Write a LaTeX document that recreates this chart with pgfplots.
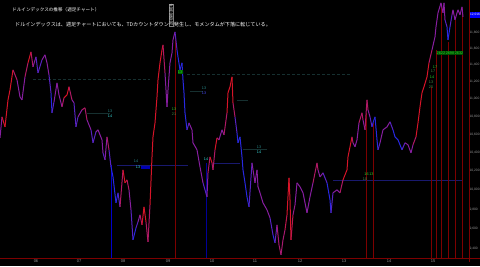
\documentclass[border=0pt]{standalone}
\usepackage{pgfplots}
\pgfplotsset{compat=1.18}
\usepackage{pgfplotstable}
\usepackage{fontspec}
\setmainfont{Liberation Sans}
\newfontfamily\cjk{Noto Sans CJK JP}
\definecolor{dred}{RGB}{125,0,0}
\definecolor{tdteal}{RGB}{40,140,140}
\definecolor{tdcyan}{RGB}{60,220,220}
\definecolor{tdgreen}{RGB}{40,210,40}
\definecolor{tddgreen}{RGB}{70,140,70}
\definecolor{dimline}{RGB}{22,48,48}
\definecolor{dblue}{RGB}{25,25,110}
\definecolor{tickgray}{RGB}{150,150,150}

\pgfplotstableread{
x p c
0 10561 0
2 10796 1
5 10683 1
8 10990 1
10 11106 1
13 11342 1
17 11224 .5
20 11025 .5
22 10990 .5
25 11259 .5
28 11426 1
31 11558 1
33 11378 .5
36 11498 .5
38 11306 0
42 11462 .5
45 11522 .5
47 11426 .5
49 11283 .5
51 11072 0
52 10842 0
54 10967 .5
57 11188 .5
59 11048 .5
62 10910 .5
64 11014 1
67 11048 1
69 11142 1
72 10990 .5
74 10956 .5
76 10683 0
78 10796 .5
82 10876 .5
85 10899 1
87 10762 .5
91 10650 .5
93 10506 0
96 10628 .5
98 10650 .5
102 10539 .5
103 10396 .5
105 10320 0
107 10572 1
109 10429 .5
111 10244 0
113 10137 0
116 9865 0
118 9969 0
120 9823 .5
123 10212 1
125 10074 1
127 10105 1
129 10000 .5
131 9792 .5
133 9489 0
136 9609 0
138 9670 .5
140 9741 .5
142 9639 1
144 9823 1
146 9670 1
148 9469 .5
150 9844 1
152 10352 1
153 10572 1
155 10728 1
157 11025 1
158 11224 1
160 11426 1
162 11582 1
163 11643 1
165 11306 .5
167 10910 .5
168 11106 .5
170 11426 .5
172 11546 .5
173 11705 .5
175 11803 .5
177 11582 0
178 11498 0
180 11342 0
182 11426 0
183 11224 0
184 11072 0
185 10842 0
187 10650 0
189 10728 .5
192 10650 .5
193 10506 .5
197 10429 .5
200 10244 .5
203 10074 .5
205 10000 0
207 9927 .5
208 10180 .5
210 10352 1
212 10287 1
213 10212 .5
215 10429 1
217 10561 1
219 10539 .5
222 10650 .5
224 10594 .5
227 10842 1
228 11072 1
230 11142 1
232 11259 1
233 10956 1
235 10796 .5
237 10616 0
238 10506 0
240 10572 0
242 10352 0
243 10212 0
245 10074 0
247 9927 0
249 9823 0
252 10287 .5
253 10212 .5
255 10074 .5
257 10212 .5
258 10032 .5
260 9969 .5
263 9865 .5
267 9792 .5
270 9711 .5
273 9539 0
275 9459 0
277 9639 .7
279 9439 .7
281 9341 .7
283 9489 .7
285 9589 .7
287 9741 1
289 10127 1
290 9896 1
291 9489 1
293 9741 .7
295 9844 .5
297 10074 .5
300 10032 .5
303 9969 .5
307 9762 .5
310 9927 .5
313 10074 .5
317 10287 1
318 10212 .5
320 10137 .5
323 10180 .5
327 10074 0
330 9896 0
331 9762 0
333 9969 .5
337 10000 .5
340 9969 .5
343 10105 1
347 10212 1
348 10352 1
350 10462 1
352 10572 1
353 10506 .5
355 10462 .5
357 10539 .5
359 10728 .5
362 10842 1
363 10762 .5
365 10650 .5
367 10990 1
368 10876 .5
370 10796 .5
372 10683 0
373 10728 0
375 10796 0
377 10539 0
378 10429 0
380 10506 .5
383 10650 .5
387 10683 .5
390 10740 .5
393 10650 0
395 10572 0
398 10539 0
402 10429 0
405 10506 .5
408 10484 .5
411 10396 .5
413 10484 .5
416 10572 1
418 10728 1
420 10910 1
422 11072 1
424 11142 1
427 11259 1
429 11426 1
432 11582 .5
435 11742 .5
436 11865 .5
438 12041 .5
441 12168 .5
443 12041 .5
444 12168 .5
445 11953 .5
447 11865 0
448 11705 0
450 11865 0
452 12016 .5
453 12079 .5
455 11953 .5
457 12041 .5
458 12079 .5
460 12016 .5
462 12117 .5
463 11991 .5
}\pricedata

\begin{document}
\begin{tikzpicture}
\useasboundingbox (0pt,0pt) rectangle (480pt,266pt);
\fill[black] (0pt,0pt) rectangle (480pt,266pt);
\begin{scope}
\clip (0pt,0pt) rectangle (480pt,266pt);
\begin{axis}[
  at={(0pt,8pt)}, anchor=south west,
  width=469pt, height=258pt, scale only axis,
  xmin=0, xmax=469,
  ymode=log, ymin=9311, ymax=12206,
  axis line style={draw=none},
  major tick length=0pt,
  xtick={36,79,123,168,212,255,300,344,389,433},
  xticklabels={06,07,08,09,10,11,12,13,14,15},
  ytick={9400,9600,9800,10000,10200,10400,10600,10800,11000,11200,11400,11600,11800},
  yticklabels={{9,400},{9,600},{9,800},{10,000},{10,200},{10,400},{10,600},{10,800},{11,000},{11,200},{11,400},{11,600},{11,800}},
  ytick pos=right,
  /pgf/number format/assume math mode=true,
  xticklabel style={font=\fontsize{4}{4}\selectfont, text=tickgray, inner sep=1pt, yshift=-1pt},
  yticklabel style={font=\fontsize{3.3}{3.5}\selectfont, text=tickgray, inner sep=0.3pt, anchor=west},
  colormap={td}{rgb255=(40,40,225) rgb255=(135,30,160) rgb255=(215,20,40)},
  point meta min=0, point meta max=1,
]
% dim level lines
\addplot[dimline, densely dashed, line width=0.4pt] coordinates {(33,11235) (150,11235)};
\addplot[dimline, densely dashed, line width=0.4pt] coordinates {(187,11294) (350,11294)};
\addplot[dimline, line width=0.4pt] coordinates {(87,10842) (110,10842)};
\addplot[dimline, line width=0.4pt] coordinates {(190,11095) (203,11095)};
\addplot[dimline, line width=0.4pt] coordinates {(237,10990) (248,10990)};
\addplot[dimline, line width=0.4pt] coordinates {(243,10440) (267,10440)};
\addplot[dblue, line width=0.5pt] coordinates {(117,10266) (188,10266)};
\addplot[dblue, line width=0.5pt] coordinates {(213,10287) (240,10287)};
\addplot[dblue, line width=0.5pt] coordinates {(333,10105) (463,10105)};
% vertical markers
\addplot[dred, line width=0.6pt] coordinates {(175,11766) (175,9311)};
\addplot[dred, line width=0.6pt] coordinates {(366,10842) (366,9311)};
\addplot[dred, line width=0.6pt] coordinates {(373,10728) (373,9311)};
\addplot[dred, line width=0.6pt] coordinates {(431,11142) (431,9311)};
\addplot[dred, line width=0.6pt] coordinates {(436,11582) (436,9311)};
\addplot[dred, line width=0.6pt] coordinates {(441,12143) (441,9311)};
\addplot[dred, line width=0.6pt] coordinates {(448,11680) (448,9311)};
\addplot[dred, line width=0.6pt] coordinates {(455,11953) (455,9311)};
\addplot[dred, line width=0.6pt] coordinates {(462,12104) (462,9311)};
\addplot[blue!80!black, line width=0.8pt] coordinates {(111,10266) (111,9311)};
\addplot[blue!60!black, line width=0.8pt] coordinates {(206,10287) (206,9311)};
% price
\addplot[mesh, point meta=explicit, line width=1pt, line join=round] table[x=x, y=p, meta=c] {\pricedata};
\end{axis}
\end{scope}
\begin{scope}[x=1pt,y=1pt]
% frame lines
\draw[dred, line width=0.6pt] (0,8) -- (480,8);
\draw[dred, line width=0.6pt] (469,4) -- (469,266);
% current price box
\fill[blue] (469.5,248) rectangle (480,254);
\node[anchor=west, text=white, font=\fontsize{3.2}{3.5}\selectfont, inner sep=0.3pt] at (469.6,251) {12,016};
% header text
\node[anchor=west, text=white, font=\cjk\fontsize{4.6}{5}\selectfont, inner sep=0] at (12,256) {ドルインデックスの推移（週足チャート）};
\node[anchor=west, text=white, font=\cjk\fontsize{5.1}{6}\selectfont, inner sep=0] at (15,241) {ドルインデックスは、週足チャートにおいても、TDカウントダウンが発生し、モメンタムが下落に転じている。};
% date marker
\node[rotate=90, draw=gray, fill=black, text=white, inner sep=0.6pt, font=\fontsize{4.2}{4.5}\selectfont] at (171,251) {2009/03/06};
% TD count labels
\begin{scope}[every node/.style={font=\fontsize{3.8}{4}\selectfont, inner sep=0.3pt}]
\node[text=tdteal] at (110,155) {13};
\node[text=tdcyan] at (110,150) {14};
\node[text=tdteal] at (136,105) {14};
\fill[blue!70!black] (140.5,97.5) rectangle (150,100.5);
\node[text=tdcyan] at (138,99) {13};
\node[text=tdgreen] at (174,157) {13};
\node[text=tddgreen] at (174,152) {21};
\fill[green!40!black] (177.5,191.8) rectangle (182.5,196.2);
\node[text=tdgreen] at (180,194) {13};
\node[text=tdteal] at (204,178) {13};
\node[text=blue!70!white] at (204,173) {13};
\node[text=tdcyan] at (206,107) {14};
\node[text=tdteal] at (259,119) {13};
\node[text=tdcyan] at (259,114) {14};
\node[text=tdgreen] at (369,92) {16\,13};
\node[text=tddgreen] at (365,87) {10};
\node[text=tdgreen] at (435,199) {17};
\node[text=tddgreen] at (433,195) {17};
\node[text=tdgreen] at (432,189) {14};
\node[text=tddgreen] at (431,184) {13};
\node[text=tddgreen] at (431,179) {25};
\fill[green!30!black] (437,211) rectangle (463,215);
\node[text=tdgreen] at (450,213) {2622\,2698\,2632};
\end{scope}
\end{scope}
\end{tikzpicture}
\end{document}
